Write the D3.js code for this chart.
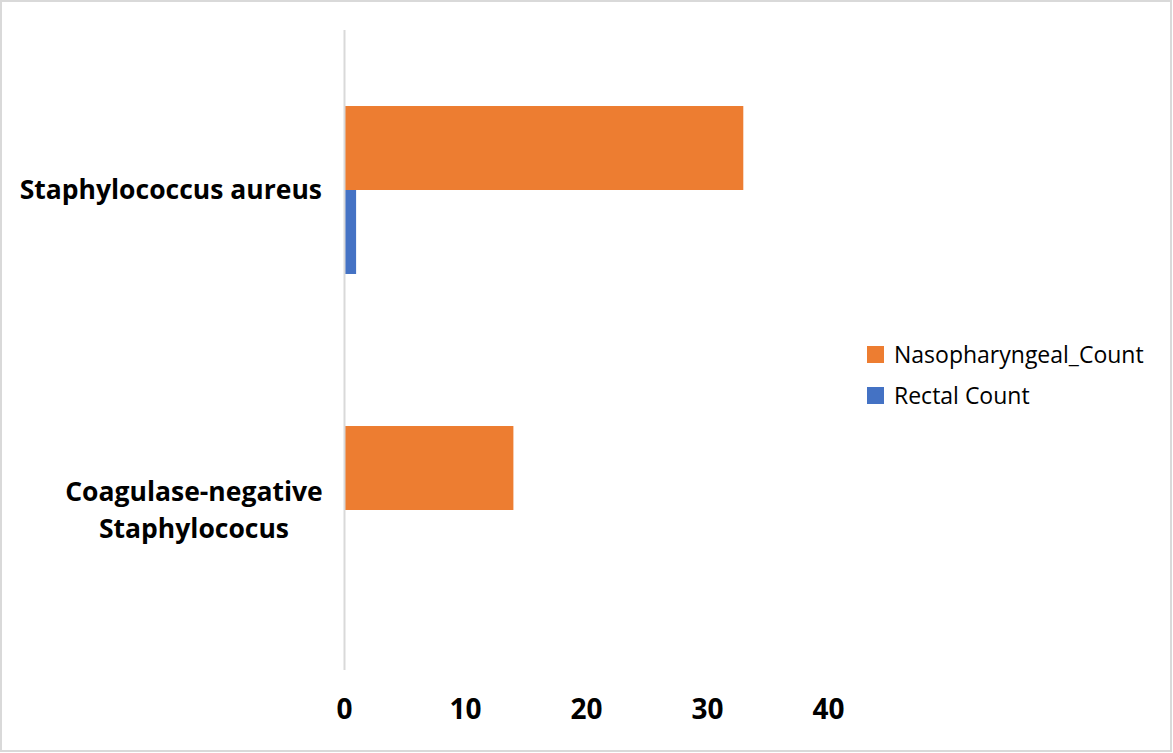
<!DOCTYPE html>
<html>
<head>
<meta charset="utf-8">
<script src="https://cdn.jsdelivr.net/npm/d3@7"></script>
<style>
  html, body { margin: 0; padding: 0; background: #fff; }
  svg { display: block; }
</style>
</head>
<body>
<div id="chart"></div>
<script>
// Chart data
const categories = ["Staphylococcus aureus", "Coagulase-negative Staphylococus"];
const categoryLines = [["Staphylococcus aureus"], ["Coagulase-negative", "Staphylococus"]];
const seriesNames = ["Nasopharyngeal_Count", "Rectal Count"];
const nasopharyngealValues = [33, 14];
const rectalValues = [1, 0];
const xTicks = [0, 10, 20, 30, 40];

const seriesColors = ["#ED7D31", "#4472C4"];
const seriesValues = [nasopharyngealValues, rectalValues];

const width = 1173,
      height = 753;

const margin = { top: 30, left: 344, bottom: 83 };

let svg = d3.select("#chart")
            .append("svg")
            .attr("width", width)
            .attr("height", height);

// outer frame
svg.append("rect")
   .attr("x", 1).attr("y", 1)
   .attr("width", width - 3).attr("height", height - 3)
   .attr("fill", "#fff")
   .attr("stroke", "#d9d9d9")
   .attr("stroke-width", 2);

let x = d3.scaleLinear()
          .domain([0, 40])
          .range([margin.left, 828]);

// one band per category
let y0 = d3.scaleBand()
           .domain(categories)
           .range([margin.top, height - margin.bottom])
           .padding(0);

// series inside each category band
let y1 = d3.scaleBand()
           .domain(seriesNames)
           .range([0, y0.bandwidth()])
           .paddingInner(0)
           .paddingOuter(0.905);

let g = svg.append("g");

// bars
seriesNames.forEach((s, si) => {
    g.append("g")
     .selectAll("rect")
     .data(categories.map((c, ci) => ({ c, v: seriesValues[si][ci] })))
     .join("rect")
     .attr("x", x(0))
     .attr("y", d => y0(d.c) + y1(s))
     .attr("width", d => x(d.v) - x(0))
     .attr("height", y1.bandwidth())
     .attr("fill", seriesColors[si]);
});

// vertical axis line
g.append("line")
 .attr("x1", x(0) + 0.5).attr("x2", x(0) + 0.5)
 .attr("y1", margin.top).attr("y2", height - margin.bottom)
 .attr("stroke", "#d9d9d9")
 .attr("stroke-width", 2);

// x tick labels
let xAxis = d3.axisBottom(x)
              .tickValues(xTicks)
              .tickSize(0)
              .tickPadding(0);

let xg = svg.append("g")
            .attr("transform", `translate(0,${height - margin.bottom + 29})`)
            .call(xAxis);
xg.select(".domain").remove();
xg.selectAll("text")
  .attr("dy", "0.71em")
  .style("font", "bold 28px 'Open Sans', sans-serif")
  .attr("fill", "#000");

// category labels
const labelX = 322;
categories.forEach((c, ci) => {
    let lines = categoryLines[ci];
    let cy = y0(c) + y0.bandwidth() / 2;
    let lineH = 37;
    let t = svg.append("text")
               .attr("text-anchor", lines.length > 1 ? "middle" : "end")
               .style("font", "bold 26.5px 'Open Sans', sans-serif")
               .attr("fill", "#000");
    lines.forEach((ln, li) => {
        t.append("tspan")
         .attr("x", lines.length > 1 ? 194 : labelX)
         .attr("y", cy + (li - (lines.length - 1) / 2) * lineH)
         .attr("dy", "0.35em")
         .text(ln);
    });
});

// legend
let legend = svg.append("g")
                .attr("transform", "translate(867,346)");
seriesNames.forEach((s, si) => {
    let row = legend.append("g")
                    .attr("transform", `translate(0,${si * 41})`);
    row.append("rect")
       .attr("width", 17).attr("height", 17)
       .attr("fill", seriesColors[si]);
    row.append("text")
       .attr("x", 27)
       .attr("y", 9)
       .attr("dy", "0.35em")
       .style("font", "23px 'Open Sans', sans-serif")
       .attr("fill", "#000")
       .text(s);
});
</script>
</body>
</html>
